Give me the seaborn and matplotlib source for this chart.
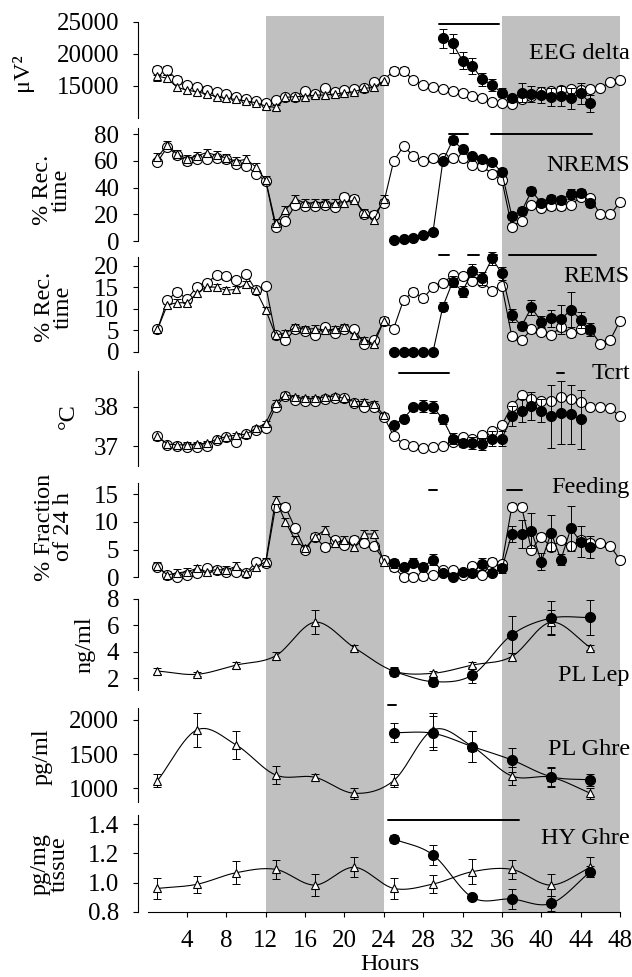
import numpy as np
import pandas as pd
import matplotlib
matplotlib.use("Agg")
import matplotlib.pyplot as plt
import seaborn as sns

# ---------------- data ----------------
hours_day1 = list(range(1, 25))
hours_all = list(range(1, 49))

# EEG delta (uV^2)
eeg_open = [17450, 17450, 15900, 15100, 14750, 14400, 14050, 13650, 13300, 12850, 12600, 12250,
            12760, 13180, 13300, 14200, 13650, 14580, 14060, 14320, 14430, 14580, 15620, 15900,
            17340, 17340, 15900, 15100, 14740, 14430, 14170, 13800, 13380, 13020, 12500, 12240,
            12140, 12860, 13380, 14060, 14220, 14320, 14430, 14320, 14430, 14580, 15620, 15900]
eeg_open_err = [700, 700, 600, 500, 500, 500, 500, 450, 450, 400, 400, 400,
                500, 400, 400, 450, 400, 450, 400, 400, 400, 450, 500, 500,
                600, 600, 500, 400, 400, 400, 400, 400, 400, 400, 400, 400,
                400, 400, 400, 400, 400, 400, 400, 400, 400, 400, 500, 500]
eeg_tri = [16500, 16150, 14750, 14300, 14050, 13700, 13300, 13000, 12850, 12600, 12350, 11820,
           11600, 13180, 13300, 13300, 13540, 13540, 13700, 13900, 14060, 14580, 14740, 15780]
eeg_tri_err = [700, 600, 600, 500, 500, 450, 450, 400, 400, 400, 400, 400,
               400, 400, 400, 400, 400, 400, 400, 400, 400, 400, 500, 500]
eeg_fill_h = list(range(30, 46))
eeg_fill = [22400, 21600, 18900, 18070, 16000, 15100, 13900, 13020, 13900, 13700, 13540, 13300,
            13380, 13020, 13800, 12240]
eeg_fill_err = [1500, 1500, 1300, 1200, 1000, 1000, 700, 600, 1500, 1200, 1200, 1400,
                1500, 1600, 1700, 1300]

# NREMS (% rec. time)
nrem_open = [59.3, 70.5, 64.3, 59.8, 61.8, 61.8, 62.3, 61.3, 58.1, 56.4, 50.6, 44.9,
             10.7, 15.0, 26.9, 26.4, 26.2, 27.4, 25.7, 33.2, 31.9, 20.0, 19.9, 28.9,
             60.0, 71.0, 64.0, 60.0, 62.0, 62.0, 62.0, 62.0, 57.0, 56.0, 50.6, 45.6,
             10.7, 15.0, 27.0, 25.0, 26.0, 26.0, 27.0, 33.0, 32.0, 20.0, 20.0, 29.0]
nrem_open_err = [2.5] * 48
nrem_tri = [63.0, 72.0, 65.0, 61.8, 63.8, 66.3, 64.3, 62.3, 59.8, 61.3, 55.6, 45.6,
            13.2, 23.2, 31.9, 28.2, 28.9, 28.9, 28.2, 28.9, 30.7, 21.4, 15.7, 31.9]
nrem_tri_err = [3.0] * 24
nrem_fill_h = list(range(25, 46))
nrem_fill = [0.5, 1.5, 2.5, 4.5, 7.0, 60.0, 75.5, 68.8, 63.8, 61.3, 59.3, 51.4,
             19.0, 22.4, 37.4, 28.9, 31.9, 30.7, 35.2, 36.4, 28.9]
nrem_fill_err = [0.5, 0.5, 0.5, 0.8, 1.0, 2.0, 3.0, 2.5, 2.0, 2.0, 2.0, 3.0,
                 3.0, 3.0, 3.0, 3.0, 3.0, 3.0, 4.0, 3.0, 3.0]

# REMS (% rec. time)
rem_open = [5.2, 12.0, 14.0, 12.2, 15.1, 16.0, 17.8, 17.6, 16.7, 18.0, 14.3, 15.3,
            3.9, 2.7, 5.2, 4.9, 3.9, 5.7, 4.4, 5.4, 5.2, 1.9, 2.7, 7.2,
            5.4, 12.0, 14.0, 12.4, 15.1, 16.0, 17.8, 17.6, 16.5, 16.3, 14.2, 15.3,
            3.6, 2.7, 5.2, 4.7, 3.9, 5.7, 4.3, 5.2, 5.0, 1.9, 2.7, 7.2]
rem_open_err = [0.8] * 48
rem_tri = [5.2, 10.9, 11.4, 11.4, 13.6, 15.1, 15.0, 14.3, 14.5, 15.7, 14.3, 9.7,
           3.9, 4.3, 5.7, 5.2, 5.4, 5.0, 5.2, 5.7, 3.9, 2.7, 1.8, 7.2]
rem_tri_err = [0.8] * 24
rem_fill_h = list(range(25, 46))
rem_fill = [0.0, 0.0, 0.0, 0.0, 0.0, 10.5, 16.3, 14.0, 18.8, 17.1, 21.7, 18.2,
            8.5, 6.0, 10.3, 7.0, 7.8, 7.5, 9.8, 7.4, 5.2]
rem_fill_err = [0.0, 0.0, 0.0, 0.0, 0.0, 1.0, 1.3, 1.2, 1.5, 1.5, 1.5, 1.5,
                1.5, 1.0, 1.8, 1.3, 2.0, 3.3, 4.0, 1.8, 1.5]

# Tcrt (deg C)
tc_open = [37.25, 37.03, 37.00, 36.97, 36.98, 37.00, 37.15, 37.24, 37.11, 37.30, 37.41, 37.45,
           38.00, 38.27, 38.17, 38.15, 38.15, 38.19, 38.21, 38.21, 38.10, 37.98, 37.98, 37.75,
           37.25, 37.05, 37.00, 36.94, 36.98, 37.00, 37.11, 37.22, 37.19, 37.28, 37.39, 37.53,
           38.02, 38.30, 38.19, 38.15, 38.15, 38.24, 38.19, 38.13, 37.98, 37.98, 37.96, 37.76]
tc_open_err = [0.06] * 48
tc_tri = [37.25, 37.05, 37.03, 37.03, 37.05, 37.07, 37.17, 37.24, 37.28, 37.30, 37.45, 37.58,
          38.10, 38.31, 38.24, 38.21, 38.21, 38.25, 38.27, 38.21, 38.13, 38.13, 38.08, 37.78]
tc_tri_err = [0.06] * 24
tc_fill_h = list(range(25, 45))
tc_fill = [37.53, 37.70, 37.98, 38.02, 38.00, 37.68, 37.19, 37.07, 37.07, 37.05, 37.19, 37.19,
           37.76, 37.90, 38.02, 37.90, 37.76, 37.85, 37.81, 37.68]
tc_fill_err = [0.08, 0.10, 0.10, 0.15, 0.15, 0.12, 0.15, 0.10, 0.15, 0.15, 0.20, 0.20,
               0.25, 0.30, 0.35, 0.30, 0.80, 0.80, 0.75, 0.75]

# Feeding (% fraction of 24 h)
fd_open = [1.9, 0.4, 0.1, 0.4, 0.8, 1.6, 1.3, 1.0, 1.0, 0.7, 2.8, 2.5,
           12.7, 12.7, 8.8, 5.0, 7.3, 5.4, 6.7, 5.8, 6.8, 6.1, 5.6, 3.2,
           1.8, 0.1, 0.1, 0.2, 0.4, 1.3, 1.3, 0.4, 2.0, 0.4, 2.8, 2.4,
           12.7, 12.7, 5.0, 7.3, 5.4, 6.7, 5.6, 6.8, 6.1, 6.1, 5.6, 3.2]
fd_open_err = [0.6] * 48
fd_tri = [2.0, 0.4, 0.8, 1.0, 1.6, 1.0, 1.4, 1.3, 2.0, 0.7, 1.9, 2.8,
          14.0, 10.0, 6.7, 5.2, 7.3, 8.5, 6.1, 6.8, 5.4, 7.8, 7.8, 2.8]
fd_tri_err = [0.7] * 24
fd_fill_h = list(range(25, 46))
fd_fill = [2.5, 1.8, 2.6, 1.9, 3.2, 0.8, 0.0, 1.0, 0.8, 2.4, 0.7, 1.6,
           7.8, 7.8, 8.4, 2.8, 8.0, 3.2, 8.8, 6.4, 5.5]
fd_fill_err = [0.8, 0.6, 0.8, 0.7, 1.0, 0.5, 0.5, 0.5, 0.5, 1.0, 0.5, 0.8,
               1.5, 2.5, 3.2, 1.5, 3.2, 1.0, 4.0, 2.8, 2.0]

# sampled measures
samp_h = [1, 5, 9, 13, 17, 21, 25, 29, 33, 37, 41, 45]
samp_fill_h = [25, 29, 33, 37, 41, 45]
lep_tri = [2.55, 2.30, 3.00, 3.69, 6.23, 4.32, 2.55, 2.38, 3.00, 3.64, 6.23, 4.32]
lep_tri_err = [0.25, 0.15, 0.20, 0.30, 0.90, 0.20, 0.25, 0.20, 0.25, 0.30, 0.90, 0.20]
lep_fill = [2.50, 1.75, 2.25, 5.28, 6.54, 6.59]
lep_fill_err = [0.35, 0.30, 0.60, 1.40, 1.30, 1.35]
ghr_tri = [1112, 1854, 1634, 1195, 1161, 927, 1112, 1854, 1610, 1180, 1161, 927]
ghr_tri_err = [90, 250, 200, 130, 50, 80, 90, 250, 230, 130, 140, 80]
ghr_fill = [1815, 1805, 1610, 1415, 1170, 1122]
ghr_fill_err = [140, 250, 230, 170, 140, 90]
hy_tri = [0.960, 0.988, 1.068, 1.091, 0.983, 1.105, 0.960, 0.990, 1.075, 1.091, 0.983, 1.105]
hy_tri_err = [0.07, 0.06, 0.08, 0.065, 0.075, 0.07, 0.07, 0.06, 0.085, 0.065, 0.075, 0.07]
hy_fill = [1.300, 1.190, 0.898, 0.887, 0.857, 1.075]
hy_fill_err = [0.03, 0.07, 0.02, 0.07, 0.05, 0.04]

panel_names = ["EEG delta", "NREMS", "REMS", "Tcrt", "Feeding", "PL Lep", "PL Ghre", "HY Ghre"]
ylabels = ["μV²", "% Rec.\ntime", "% Rec.\ntime", "°C", "% Fraction\nof 24 h", "ng/ml", "pg/ml", "pg/mg\ntissue"]
xticks = [4, 8, 12, 16, 20, 24, 28, 32, 36, 40, 44, 48]

# significance bars: (panel index, x start, x end, y)
sig_bars = [(0, 29.6, 35.7, 24630),
            (1, 30.6, 32.6, 80), (1, 34.9, 45.2, 80),
            (2, 29.6, 30.6, 22.5), (2, 32.6, 33.7, 22.5), (2, 34.7, 35.5, 22.5), (2, 36.7, 45.6, 22.5),
            (3, 25.5, 30.6, 38.86), (3, 41.6, 42.3, 38.86),
            (4, 28.6, 29.4, 15.8), (4, 36.5, 38.0, 15.8),
            (6, 24.4, 25.2, 2220),
            (7, 24.4, 37.7, 1.43)]

# ---------------- style ----------------
sns.set_theme(style="white")
plt.rcParams["font.family"] = ["Liberation Serif", "DejaVu Serif"]
plt.rcParams["axes.linewidth"] = 0.8
FS_TICK = 18
FS = 17.5
W, H = 632, 977
fig = plt.figure(figsize=(W / 100, H / 100), dpi=100)

x_left_px, x_right_px = 137.8, 620.0
bands = [(16, 122), (122, 249), (249, 361), (361, 474), (474, 588), (588, 704), (704, 813), (813, 911.7)]
ylims = [(9328, 25891), (-5.9, 89.2), (-2.16, 23.9), (36.288, 39.163), (-1.93, 18.61),
         (0.06, 8.815), (638, 2234), (0.8, 1.478)]
spine_bounds = [(10000, 25000), (0, 85), (0, 22), (36.5, 38.9), (0, 17), (1.1, 8), (800, 2180), (0.8, 1.465)]
yticks = [[15000, 20000, 25000], [0, 20, 40, 60, 80], [0, 5, 10, 15, 20], [37, 38], [0, 5, 10, 15],
          [2, 4, 6, 8], [1000, 1500, 2000], [0.8, 1.0, 1.2, 1.4]]
name_y = [20000, 57, 17.4, 38.85, 16.1, 2.2, 1561, 1.304]
ylabel_pos = [(22, 72), (52, 190), (54, 307), (68, 416), (54, 527), (85, 645), (42, 757), (50, 864)]

def fx(px):
    return px / W

def fy(py):
    return 1 - py / H

# grey background for dark periods
bg = fig.add_axes([fx(x_left_px), fy(911.7), fx(x_right_px) - fx(x_left_px), fy(16) - fy(911.7)])
bg.set_xlim(-1, 48)
bg.set_ylim(0, 1)
bg.axvspan(12, 24, color="#c0c0c0", lw=0)
bg.axvspan(36, 48, color="#c0c0c0", lw=0)
bg.axis("off")
bg.set_zorder(0)

axes = []
for i, (top, bot) in enumerate(bands):
    ax = fig.add_axes([fx(x_left_px), fy(bot), fx(x_right_px) - fx(x_left_px), fy(top) - fy(bot)])
    ax.set_zorder(1)
    ax.patch.set_alpha(0)
    ax.set_xlim(-1, 48)
    ax.set_ylim(*ylims[i])
    for s in ["top", "right"]:
        ax.spines[s].set_visible(False)
    ax.spines["left"].set_bounds(*spine_bounds[i])
    ax.spines["left"].set_color("black")
    ax.set_yticks(yticks[i])
    ax.tick_params(axis="y", direction="out", length=3.4, width=0.8, pad=10.0, labelsize=FS_TICK,
                   colors="black", left=True)
    if i < len(bands) - 1:
        ax.spines["bottom"].set_visible(False)
        ax.set_xticks([])
    else:
        ax.spines["bottom"].set_bounds(0, 48)
        ax.spines["bottom"].set_color("black")
        ax.set_xticks(xticks)
        ax.tick_params(axis="x", direction="out", length=3.4, width=0.8, pad=9.5, labelsize=FS_TICK,
                       colors="black", bottom=True)
    ax.grid(False)
    axes.append(ax)

axes[7].yaxis.set_major_formatter(matplotlib.ticker.FormatStrFormatter("%.1f"))

EB = dict(fmt="none", ecolor="black", elinewidth=0.7, capsize=3.2, capthick=0.7, clip_on=False)
OPEN = dict(color="black", lw=0.8, marker="o", markersize=7.2, markerfacecolor="white",
            markeredgecolor="black", markeredgewidth=0.8, clip_on=False, legend=False)
TRI = dict(color="black", lw=0.8, marker="^", markersize=6.3, markerfacecolor="white",
           markeredgecolor="black", markeredgewidth=0.8, clip_on=False, legend=False)
FILL = dict(color="black", lw=0.8, marker="o", markersize=7.2, markerfacecolor="black",
            markeredgecolor="black", markeredgewidth=0.8, clip_on=False, legend=False)


def hourly(ax, o, oe, t, te, fh, f, fe):
    ax.errorbar(hours_day1, t, yerr=te, zorder=2.0, **EB)
    ax.errorbar(hours_all, o, yerr=oe, zorder=2.1, **EB)
    ax.errorbar(fh, f, yerr=fe, zorder=4.5, **EB)
    sns.lineplot(x=hours_all, y=o, ax=ax, zorder=3, **OPEN)
    sns.lineplot(x=hours_day1, y=t, ax=ax, zorder=4, **TRI)
    sns.lineplot(x=fh, y=f, ax=ax, zorder=5, **FILL)


def catmull(x, y, n=24):
    P = np.column_stack([np.asarray(x, float), np.asarray(y, float)])
    P = np.vstack([2 * P[0] - P[1], P, 2 * P[-1] - P[-2]])
    t = np.linspace(0, 1, n, endpoint=False)[:, None]
    segs = []
    for i in range(1, len(P) - 2):
        p0, p1, p2, p3 = P[i - 1], P[i], P[i + 1], P[i + 2]
        segs.append(0.5 * (2 * p1 + (-p0 + p2) * t + (2 * p0 - 5 * p1 + 4 * p2 - p3) * t ** 2
                           + (-p0 + 3 * p1 - 3 * p2 + p3) * t ** 3))
    segs.append(P[-2][None, :])
    c = np.vstack(segs)
    return c[:, 0], c[:, 1]


def sampled(ax, t, te, f, fe):
    ax.errorbar(samp_h, t, yerr=te, zorder=2.0, **EB)
    ax.errorbar(samp_fill_h, f, yerr=fe, zorder=2.1, **EB)
    cx, cy = catmull(samp_h, t)
    sns.lineplot(x=cx, y=cy, ax=ax, sort=False, estimator=None, color="black", lw=0.8, zorder=3, legend=False)
    cx, cy = catmull(samp_fill_h, f)
    sns.lineplot(x=cx, y=cy, ax=ax, sort=False, estimator=None, color="black", lw=0.8, zorder=3, legend=False)
    sns.lineplot(x=samp_h, y=t, ax=ax, zorder=4, **dict(TRI, lw=0, linestyle="none"))
    sns.lineplot(x=samp_fill_h, y=f, ax=ax, zorder=5, **dict(FILL, lw=0, linestyle="none"))


hourly(axes[0], eeg_open, eeg_open_err, eeg_tri, eeg_tri_err, eeg_fill_h, eeg_fill, eeg_fill_err)
hourly(axes[1], nrem_open, nrem_open_err, nrem_tri, nrem_tri_err, nrem_fill_h, nrem_fill, nrem_fill_err)
hourly(axes[2], rem_open, rem_open_err, rem_tri, rem_tri_err, rem_fill_h, rem_fill, rem_fill_err)
hourly(axes[3], tc_open, tc_open_err, tc_tri, tc_tri_err, tc_fill_h, tc_fill, tc_fill_err)
hourly(axes[4], fd_open, fd_open_err, fd_tri, fd_tri_err, fd_fill_h, fd_fill, fd_fill_err)
sampled(axes[5], lep_tri, lep_tri_err, lep_fill, lep_fill_err)
sampled(axes[6], ghr_tri, ghr_tri_err, ghr_fill, ghr_fill_err)
sampled(axes[7], hy_tri, hy_tri_err, hy_fill, hy_fill_err)

for i, ax in enumerate(axes):
    ax.set_xlim(-1, 48)
    ax.set_ylim(*ylims[i])
    ax.set_xlabel("")
    ax.set_ylabel("")
    ax.text(49.0, name_y[i], panel_names[i], ha="right", va="center", fontsize=FS, color="black",
            clip_on=False, zorder=6)
    px, py = ylabel_pos[i]
    fig.text(fx(px), fy(py), ylabels[i], rotation=90, ha="center", va="center", fontsize=FS,
             multialignment="center", linespacing=0.9, color="black")

for (i, x0, x1, yv) in sig_bars:
    axes[i].plot([x0, x1], [yv, yv], color="black", lw=1.4, clip_on=False, zorder=6)

fig.text(fx(390), fy(965), "Hours", ha="center", va="center", fontsize=FS, color="black")

fig.savefig("out.png", dpi=100)
